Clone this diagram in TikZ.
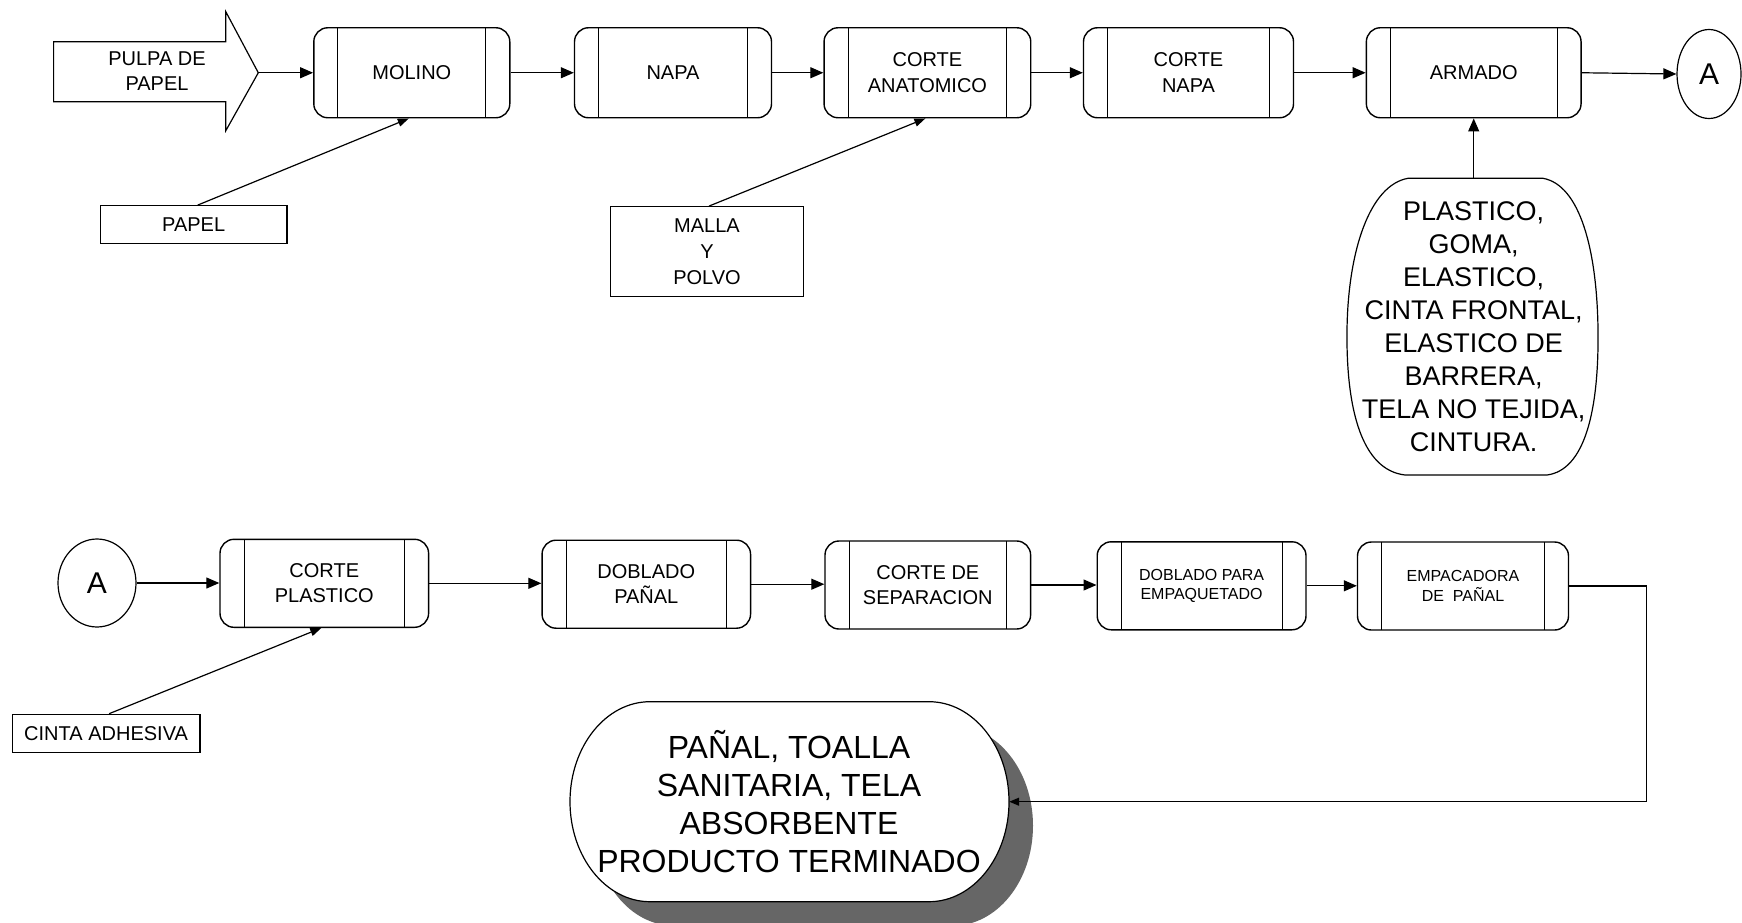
\documentclass[tikz,border=0pt]{standalone}
\usepackage{fontspec}
\setmainfont{Liberation Sans}
\usetikzlibrary{arrows.meta,shapes.geometric}
\begin{document}
\begin{tikzpicture}[x=1pt,y=-1pt,
  proc/.style={draw, line width=1.4pt, rounded corners=14pt, align=center, inner sep=0pt,
    font=\fontsize{20}{25.5}\selectfont, minimum height=90pt,
    path picture={\draw[line width=1pt]
      ([xshift=24pt]path picture bounding box.north west) -- ([xshift=24pt]path picture bounding box.south west)
      ([xshift=-24pt]path picture bounding box.north east) -- ([xshift=-24pt]path picture bounding box.south east);}},
  smalltext/.style={font=\fontsize{16}{19.5}\selectfont},
  plain/.style={draw, line width=1.2pt, align=center, inner sep=0pt, font=\fontsize{20}{26}\selectfont},
  conn/.style={draw, ellipse, line width=1.2pt, inner sep=0pt, font=\fontsize{30}{30}\selectfont},
  arr/.style={line width=1.2pt, -{Triangle[length=13pt,width=11pt]}},
  feed/.style={line width=1.2pt, -{Triangle[length=11pt,width=8pt]}},
  outline/.style={line width=1.2pt}]
\useasboundingbox (0,0) rectangle (1742,923);

% --- top row ---
\draw[outline] (53.6,41.7) -- (225.8,41.7) -- (225.8,11.7) -- (258.3,72.75) -- (225.8,130.7) -- (225.8,101.7) -- (53.6,101.7) -- cycle;
\node[align=center, font=\fontsize{20}{25.7}\selectfont] (pulpa) at (157,71.2) {PULPA DE\\PAPEL};
\coordinate (ptip) at (258.3,72.75);

\node[proc, minimum width=196pt] (molino) at (411.8,72.75) {MOLINO};
\node[proc, minimum width=197pt] (napa) at (673,72.75) {NAPA};
\node[proc, minimum width=206.7pt] (anat) at (927.4,72.75) {CORTE\\ANATOMICO};
\node[proc, minimum width=210pt] (cnapa) at (1188.5,72.75) {CORTE\\NAPA};
\node[proc, minimum width=214.7pt] (armado) at (1473.7,72.75) {ARMADO};
\node[conn, minimum width=64pt, minimum height=89pt] (atop) at (1709,74) {A};

\draw[arr] (ptip) -- (molino.west);
\draw[arr] (molino.east) -- (napa.west);
\draw[arr] (napa.east) -- (anat.west);
\draw[arr] (anat.east) -- (cnapa.west);
\draw[arr] (cnapa.east) -- (armado.west);
\draw[arr] (armado.east) -- (atop.west);

\node[plain, minimum width=186.7pt, minimum height=37.6pt] (papel) at (193.7,224.5) {PAPEL};
\node[plain, minimum width=193.3pt, minimum height=90pt] (malla) at (707,251.7) {MALLA\\Y\\POLVO};
\draw[feed] ([xshift=4pt]papel.north) -- ([xshift=-3pt]molino.south);
\draw[feed] ([xshift=2pt]malla.north) -- ([xshift=-2pt]anat.south);

% barrel
\draw[outline] (1408,178.3) -- (1543,178.3)
  .. controls (1580,185) and (1597,250) .. (1598,330)
  .. controls (1599,410) and (1585,470) .. (1547,475)
  -- (1405,475)
  .. controls (1362,470) and (1346,410) .. (1347,330)
  .. controls (1348,250) and (1370,185) .. (1408,178.3) -- cycle;
\node[align=center, font=\fontsize{27}{33.1}\selectfont, minimum height=296.7pt, inner sep=0pt] (mat) at (1473.7,326.7)
  {PLASTICO,\\GOMA,\\ELASTICO,\\CINTA FRONTAL,\\ELASTICO DE\\BARRERA,\\TELA NO TEJIDA,\\CINTURA.};
\draw[arr] (mat.north) -- (armado.south);

% --- bottom row ---
\node[conn, minimum width=78pt, minimum height=88pt] (abot) at (97,583) {A};
\node[proc, minimum width=208.6pt, minimum height=88pt] (cplast) at (324.3,583.3) {CORTE\\PLASTICO};
\node[proc, minimum width=208.5pt, minimum height=88pt] (dpanal) at (646.3,584.2) {DOBLADO\\PAÑAL};
\node[proc, minimum width=205.6pt, minimum height=88pt] (csep) at (927.8,585) {CORTE DE\\SEPARACION};
\node[proc, smalltext, minimum width=208.8pt, minimum height=88pt] (dpara) at (1201.6,585.8) {DOBLADO PARA\\EMPAQUETADO};
\node[proc, smalltext, minimum width=211pt, minimum height=88pt] (empac) at (1463,586) {EMPACADORA\\DE\ \ PAÑAL};

\draw[arr] (abot.east) -- (abot.east -| cplast.west);
\draw[arr] (cplast.east) -- (cplast.east -| dpanal.west);
\draw[arr] (dpanal.east) -- (dpanal.east -| csep.west);
\draw[arr] (csep.east) -- (csep.east -| dpara.west);
\draw[arr] (dpara.east) -- (dpara.east -| empac.west);

\node[plain, minimum width=187.8pt, minimum height=38pt] (cinta) at (106.1,733.3) {CINTA ADHESIVA};
\draw[feed] ([xshift=3pt]cinta.north) -- ([xshift=-3pt]cplast.south);

% final product
\fill[black!60] (674,725.7) -- (953,725.7) arc[start angle=-90,end angle=90,x radius=80,y radius=100]
  -- (674,925.7) arc[start angle=90,end angle=270,x radius=80,y radius=100] -- cycle;
\draw[outline, fill=white] (650,701.7) -- (929,701.7) arc[start angle=-90,end angle=90,x radius=80,y radius=100]
  -- (650,901.7) arc[start angle=90,end angle=270,x radius=80,y radius=100] -- cycle;
\node[align=center, font=\fontsize{32}{37.9}\selectfont, minimum width=440pt, minimum height=200pt, inner sep=0pt] (prod) at (789,801.7)
  {PAÑAL, TOALLA\\SANITARIA, TELA\\ABSORBENTE\\PRODUCTO TERMINADO};
\draw[line width=1.2pt, -{Triangle[length=10pt,width=8pt]}] (empac.east) -- ++(77.3,0) |- (prod.east);
\end{tikzpicture}
\end{document}
